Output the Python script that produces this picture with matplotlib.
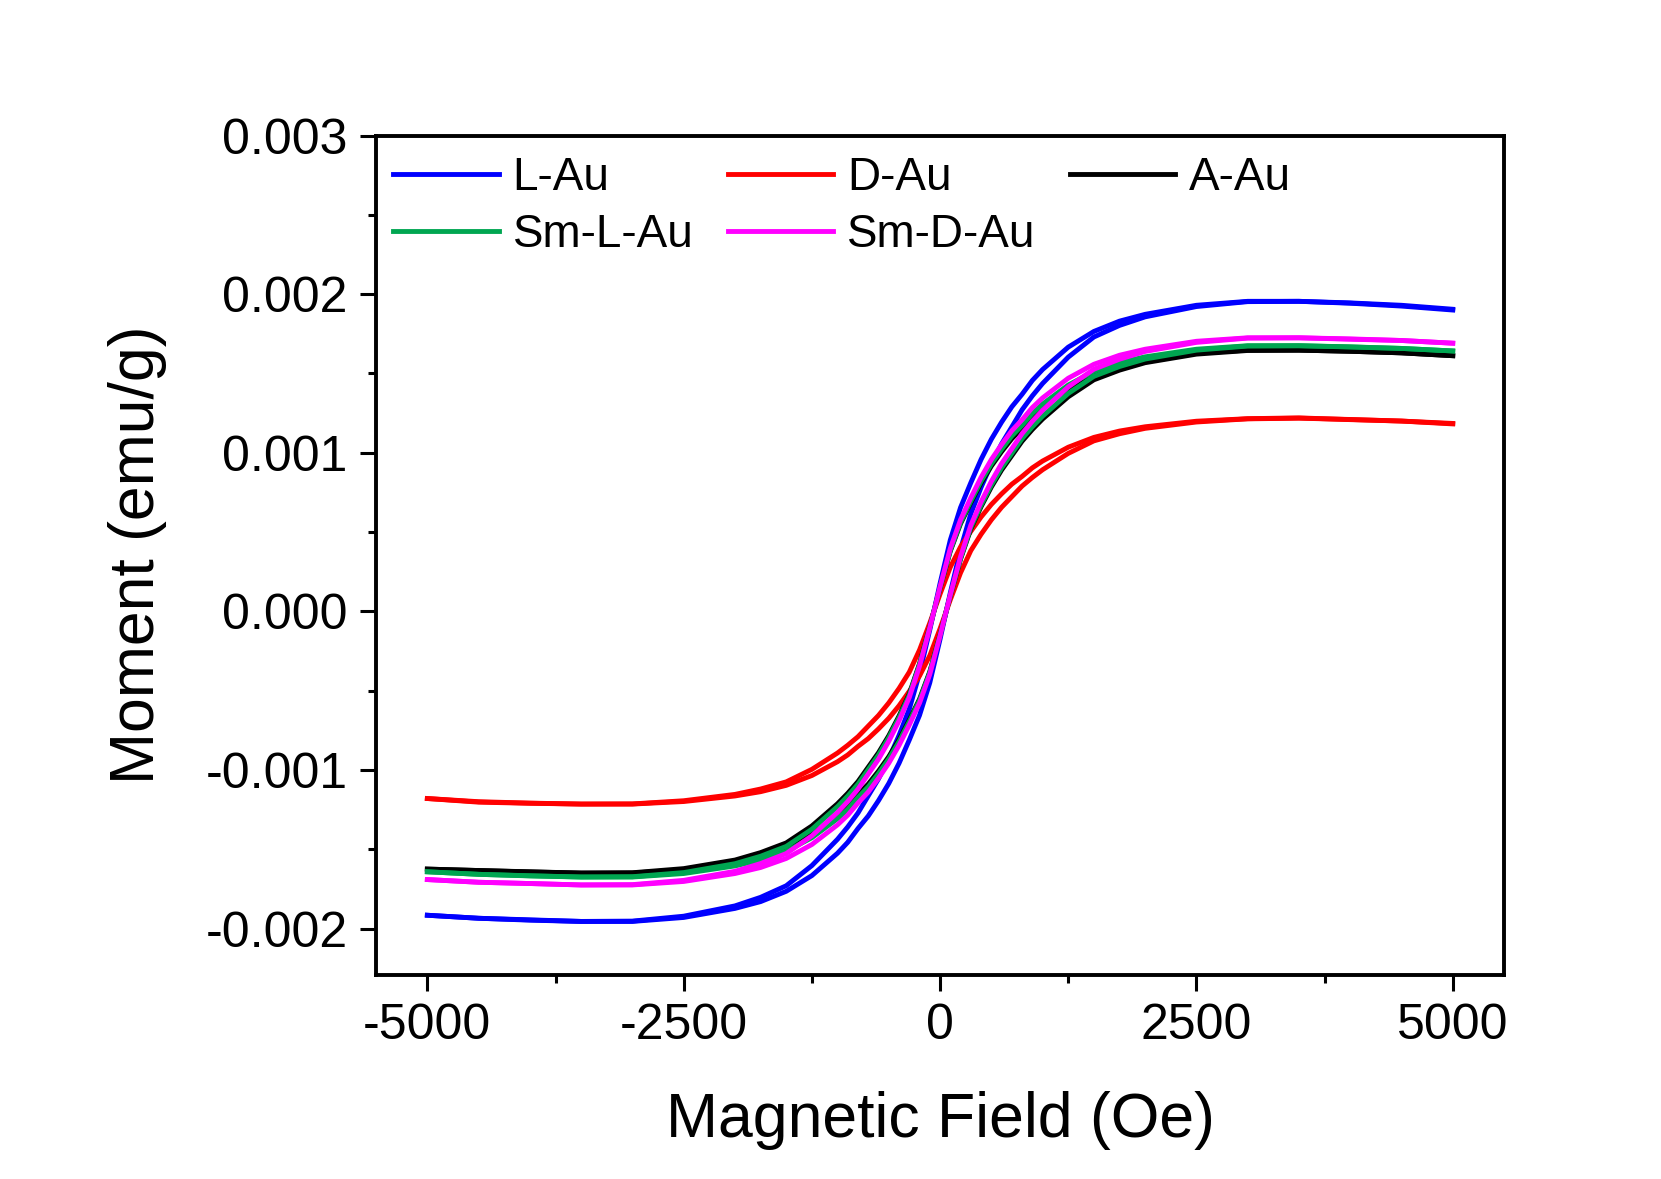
import numpy as np
import matplotlib
matplotlib.use("Agg")
import matplotlib.pyplot as plt
from matplotlib.ticker import MultipleLocator

plt.rcParams['font.family'] = ['Liberation Sans', 'DejaVu Sans']
plt.rcParams['axes.unicode_minus'] = False

# magnetic field (Oe), same grid for every branch
field = [-5000, -4500, -4000, -3500, -3000, -2500, -2000, -1750, -1500, -1250,
         -1000, -900, -800, -700, -600, -500, -400, -300, -200, -100,
         0, 100, 200, 300, 400, 500, 600, 700, 800, 900,
         1000, 1250, 1500, 1750, 2000, 2500, 3000, 3500, 4000, 4500, 5000]

# moment in 1e-3 emu/g, "up" = sweep -5000 -> 5000, "down" = sweep 5000 -> -5000
lau_up = [-1.916, -1.935, -1.945, -1.955, -1.955, -1.930, -1.873, -1.830, -1.765, -1.666,
          -1.525, -1.456, -1.369, -1.290, -1.193, -1.085, -0.958, -0.811, -0.655, -0.450,
          -0.176, 0.117, 0.391, 0.616, 0.782, 0.929, 1.056, 1.163, 1.271, 1.359,
          1.437, 1.603, 1.730, 1.803, 1.857, 1.922, 1.953, 1.955, 1.945, 1.930, 1.905]
lau_down = [-1.916, -1.935, -1.947, -1.955, -1.953, -1.922, -1.857, -1.803, -1.730, -1.603,
            -1.437, -1.359, -1.271, -1.163, -1.056, -0.929, -0.782, -0.616, -0.391, -0.117,
            0.176, 0.450, 0.655, 0.811, 0.958, 1.085, 1.193, 1.290, 1.369, 1.456,
            1.525, 1.666, 1.765, 1.830, 1.873, 1.930, 1.955, 1.955, 1.943, 1.925, 1.900]

dau_up = [-1.180, -1.200, -1.209, -1.215, -1.215, -1.199, -1.164, -1.137, -1.097, -1.035,
          -0.948, -0.905, -0.851, -0.802, -0.741, -0.674, -0.595, -0.504, -0.407, -0.279,
          -0.109, 0.073, 0.243, 0.383, 0.486, 0.577, 0.656, 0.723, 0.790, 0.844,
          0.893, 0.996, 1.075, 1.120, 1.154, 1.194, 1.214, 1.218, 1.210, 1.200, 1.185]
dau_down = [-1.180, -1.203, -1.210, -1.215, -1.214, -1.194, -1.154, -1.120, -1.075, -0.996,
            -0.893, -0.844, -0.790, -0.723, -0.656, -0.577, -0.486, -0.383, -0.243, -0.073,
            0.109, 0.279, 0.407, 0.504, 0.595, 0.674, 0.741, 0.802, 0.851, 0.905,
            0.948, 1.035, 1.097, 1.137, 1.164, 1.199, 1.215, 1.220, 1.209, 1.200, 1.182]

aau_up = [-1.625, -1.634, -1.642, -1.650, -1.650, -1.629, -1.581, -1.544, -1.490, -1.406,
          -1.287, -1.229, -1.155, -1.089, -1.007, -0.916, -0.809, -0.685, -0.553, -0.380,
          -0.149, 0.099, 0.330, 0.520, 0.660, 0.784, 0.891, 0.982, 1.073, 1.147,
          1.213, 1.353, 1.460, 1.521, 1.568, 1.622, 1.645, 1.647, 1.640, 1.630, 1.612]
aau_down = [-1.625, -1.634, -1.643, -1.650, -1.648, -1.622, -1.568, -1.521, -1.460, -1.353,
            -1.213, -1.147, -1.073, -0.982, -0.891, -0.784, -0.660, -0.520, -0.330, -0.099,
            0.149, 0.380, 0.553, 0.685, 0.809, 0.916, 1.007, 1.089, 1.155, 1.229,
            1.287, 1.406, 1.490, 1.544, 1.581, 1.629, 1.647, 1.647, 1.640, 1.630, 1.612]

smlau_up = [-1.642, -1.658, -1.667, -1.675, -1.675, -1.653, -1.605, -1.568, -1.513, -1.427,
            -1.307, -1.248, -1.173, -1.106, -1.022, -0.930, -0.821, -0.695, -0.561, -0.385,
            -0.151, 0.101, 0.335, 0.528, 0.670, 0.796, 0.905, 0.997, 1.089, 1.164,
            1.231, 1.374, 1.482, 1.544, 1.591, 1.647, 1.673, 1.675, 1.668, 1.658, 1.642]
smlau_down = [-1.642, -1.658, -1.668, -1.675, -1.673, -1.647, -1.591, -1.544, -1.482, -1.374,
              -1.231, -1.164, -1.089, -0.997, -0.905, -0.796, -0.670, -0.528, -0.335, -0.101,
              0.151, 0.385, 0.561, 0.695, 0.821, 0.930, 1.022, 1.106, 1.173, 1.248,
              1.307, 1.427, 1.513, 1.568, 1.605, 1.653, 1.675, 1.675, 1.667, 1.658, 1.642]

smdau_up = [-1.691, -1.708, -1.716, -1.725, -1.725, -1.703, -1.653, -1.615, -1.558, -1.470,
            -1.346, -1.285, -1.208, -1.139, -1.052, -0.957, -0.845, -0.716, -0.578, -0.397,
            -0.155, 0.104, 0.345, 0.543, 0.690, 0.819, 0.932, 1.026, 1.121, 1.199,
            1.268, 1.415, 1.527, 1.590, 1.639, 1.696, 1.723, 1.725, 1.718, 1.708, 1.691]
smdau_down = [-1.691, -1.708, -1.716, -1.725, -1.723, -1.696, -1.639, -1.590, -1.527, -1.415,
              -1.268, -1.199, -1.121, -1.026, -0.932, -0.819, -0.690, -0.543, -0.345, -0.104,
              0.155, 0.397, 0.578, 0.716, 0.845, 0.957, 1.052, 1.139, 1.208, 1.285,
              1.346, 1.470, 1.558, 1.615, 1.653, 1.703, 1.725, 1.725, 1.716, 1.708, 1.691]

labels = ['L-Au', 'D-Au', 'A-Au', 'Sm-L-Au', 'Sm-D-Au']
colors = ['#0000ff', '#ff0000', '#000000', '#00a651', '#ff00ff']
branches = [(lau_up, lau_down), (dau_up, dau_down), (aau_up, aau_down),
            (smlau_up, smlau_down), (smdau_up, smdau_down)]

fig = plt.figure(figsize=(16.61, 11.79), dpi=100)
ax = fig.add_axes([0.2264, 0.1734, 0.6791, 0.7116])

handles = []
for lab, col, (up, down) in zip(labels, colors, branches):
    h, = ax.plot(field, np.array(up) * 1e-3, color=col, lw=3.5, label=lab)
    ax.plot(field[::-1], np.array(down[::-1]) * 1e-3, color=col, lw=3.5)
    handles.append(h)

ax.set_xlim(-5500, 5500)
ax.set_ylim(-0.00229, 0.003)
ax.set_xticks([-5000, -2500, 0, 2500, 5000])
ax.set_yticks([-0.002, -0.001, 0.0, 0.001, 0.002, 0.003])
ax.set_yticklabels(['-0.002', '-0.001', '0.000', '0.001', '0.002', '0.003'])
ax.xaxis.set_minor_locator(MultipleLocator(1250))
ax.yaxis.set_minor_locator(MultipleLocator(0.0005))
ax.tick_params(which='major', direction='out', length=11.5, width=2.2,
               labelsize=36, pad=9, top=False, right=False)
ax.tick_params(which='minor', direction='out', length=6, width=2.2,
               top=False, right=False)
for sp in ax.spines.values():
    sp.set_linewidth(2.8)

ax.set_xlabel('Magnetic Field (Oe)', fontsize=45, labelpad=30)
ax.set_ylabel('Moment (emu/g)', fontsize=45, labelpad=28)

# legend filled row by row: 3 columns
order = [0, 3, 1, 4, 2]
ax.legend([handles[i] for i in order], [labels[i] for i in order],
          ncol=3, loc='upper left', bbox_to_anchor=(-0.009, 1.008),
          frameon=False, fontsize=33, handlelength=2.3, handletextpad=0.3,
          columnspacing=0.75, labelspacing=0.27, borderaxespad=0.2)

fig.savefig('out.png', dpi=100)
